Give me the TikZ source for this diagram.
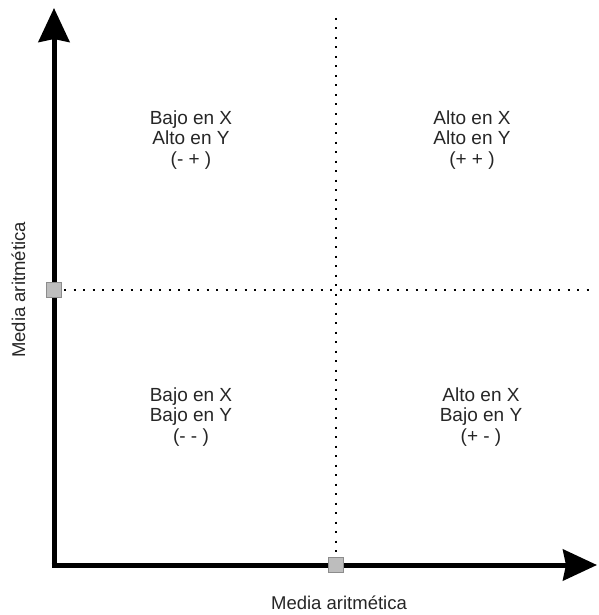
\documentclass[tikz,border=0pt]{standalone}
\usepackage{fontspec}
\setmainfont{Liberation Sans}
\usetikzlibrary{arrows.meta}
\definecolor{mk}{HTML}{BDBDBD}
\definecolor{mkd}{HTML}{8C8C8C}
\definecolor{tx}{HTML}{262626}
\begin{document}
\begin{tikzpicture}[x=1pt,y=-1pt,
  axis/.style={line width=5pt,-{Stealth[length=34pt,width=31pt,inset=3pt]}},
  guide/.style={line width=2pt,dash pattern=on 2pt off 7.5pt},
  marker/.style={draw=mkd,fill=mk,line width=0.7pt,minimum size=15pt,inner sep=0pt},
  quad/.style={align=center,text=tx,font=\fontsize{19}{20.8}\selectfont,inner sep=0pt},
  lab/.style={text=tx,font=\fontsize{18.5}{20}\selectfont,inner sep=0pt}]
\useasboundingbox (0,0) rectangle (598,615);
\coordinate (o) at (54,565);
\coordinate (ytop) at (54,8);
\coordinate (xright) at (597,565);
\coordinate (vtop) at (336,18);
\coordinate (vbot) at (336,557);
\coordinate (hstart) at (64,290);
\coordinate (hend) at (592,290);
\draw[guide] (vtop) -- (vbot);
\draw[guide] (hstart) -- (hend);
\draw[axis] (54,567.5) -- (ytop);
\draw[axis] (51.5,565) -- (xright);
\node[marker] (my) at (54,290) {};
\node[marker] (mx) at (336,565) {};
\node[quad] (q1) at (191,140) {Bajo en X\\Alto en Y\\(- + )};
\node[quad] (q2) at (472,140) {Alto en X\\Alto en Y\\(+ + )};
\node[quad] (q3) at (191,417) {Bajo en X\\Bajo en Y\\(- - )};
\node[quad] (q4) at (481,417) {Alto en X\\Bajo en Y\\(+ - )};
\node[lab,anchor=base] (lx) at (339,609) {Media aritmética};
\node[lab,rotate=90,anchor=base] (ly) at (25,290) {Media aritmética};
\end{tikzpicture}
\end{document}
